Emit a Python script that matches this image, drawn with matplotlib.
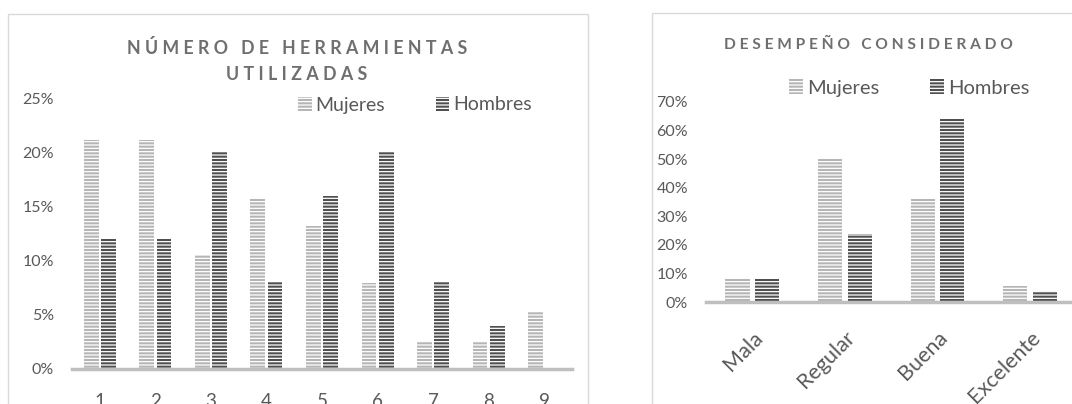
import numpy as np
import matplotlib
matplotlib.use('Agg')
import matplotlib.pyplot as plt
from matplotlib.patches import Rectangle
from matplotlib.ticker import PercentFormatter

# data
herramientas = ['1', '2', '3', '4', '5', '6', '7', '8', '9']
muj_herr = [21.1, 21.1, 10.5, 15.8, 13.2, 7.9, 2.6, 2.6, 5.3]
hom_herr = [12, 12, 20, 8, 16, 20, 8, 4, 0]

desempeno = ['Mala', 'Regular', 'Buena', 'Excelente']
muj_des = [8.3, 50, 36.1, 5.6]
hom_des = [8, 24, 64, 4]

series = ['Mujeres', 'Hombres']

plt.rcParams['font.family'] = ['Lato', 'DejaVu Sans']
plt.rcParams['hatch.linewidth'] = 0.9
txt = '#595959'
light = '#b5b5b5'
dark = '#4f4f4f'

W, H = 1072, 404
fig = plt.figure(figsize=(W/100, H/100), dpi=100)

# chart borders
fig.patches.append(Rectangle((8/W, -0.1), 580/W, 1.1 - 14/H, transform=fig.transFigure,
                             fill=False, ec='#d9d9d9', lw=1))
fig.patches.append(Rectangle((652/W, -0.1), 0.5, 1.1 - 13/H, transform=fig.transFigure,
                             fill=False, ec='#d9d9d9', lw=1))

def style(ax, ymax):
    for s in ['top', 'right', 'left']:
        ax.spines[s].set_visible(False)
    ax.spines['bottom'].set_color('#bfbfbf')
    ax.spines['bottom'].set_linewidth(2.5)
    ax.set_ylim(0, ymax)
    ax.yaxis.set_major_formatter(PercentFormatter(decimals=0))
    ax.tick_params(axis='both', length=0, colors=txt)
    ax.tick_params(axis='y', labelsize=11.5, pad=13)

# left chart
ax1 = fig.add_axes([72/W, 35/H, 500/W, 271/H])
x1 = np.arange(len(herramientas))
b1 = ax1.bar(x1 - 0.155, muj_herr, 0.265, color=light, ec='white', lw=0, hatch='-----', label=series[0])
b2 = ax1.bar(x1 + 0.155, hom_herr, 0.265, color=dark, ec='white', lw=0, hatch='-----', label=series[1])
ax1.set_xlim(-0.5, len(herramientas) - 0.5)
ax1.set_xticks(x1, herramientas)
style(ax1, 25)
ax1.set_yticks([0, 5, 10, 15, 20, 25])
ax1.tick_params(axis='x', labelsize=13.5, pad=17)
fig.text(297/W, 1 - 48/H, 'N Ú M E R O   D E   H E R R A M I E N T A S', ha='center', va='center',
         fontsize=12.8, fontweight='bold', color='#6f6f6f')
fig.text(297/W, 1 - 74/H, 'U T I L I Z A D A S', ha='center', va='center',
         fontsize=12.8, fontweight='bold', color='#6f6f6f')
fig.legend(handles=[b1, b2], loc='center left', bbox_to_anchor=(298/W, 1 - 105/H), ncol=2,
           frameon=False, fontsize=14, labelcolor=txt, borderpad=0, borderaxespad=0,
           handlelength=0.7, handleheight=0.7, handletextpad=0.2, columnspacing=2.6)

# right chart
ax2 = fig.add_axes([706/W, 101.7/H, 370.4/W, 200.6/H])
x2 = np.arange(len(desempeno))
c1 = ax2.bar(x2 - 0.16, muj_des, 0.26, color=light, ec='white', lw=0, hatch='-----', label=series[0])
c2 = ax2.bar(x2 + 0.16, hom_des, 0.26, color=dark, ec='white', lw=0, hatch='-----', label=series[1])
ax2.set_xlim(-0.5, len(desempeno) - 0.5)
ax2.set_xticks(x2, desempeno)
style(ax2, 70)
ax2.set_yticks(np.arange(0, 71, 10))
ax2.tick_params(axis='x', labelsize=15.5, pad=18)
for lab in ax2.get_xticklabels():
    lab.set_rotation(45)
    lab.set_ha('right')
    lab.set_va('top')
    lab.set_rotation_mode('anchor')
fig.text(868/W, 1 - 45/H, 'D E S E M P E Ñ O   C O N S I D E R A D O', ha='center', va='center',
         fontsize=11.2, fontweight='bold', color='#6f6f6f')
fig.legend(handles=[c1, c2], loc='center left', bbox_to_anchor=(789/W, 1 - 88/H), ncol=2,
           frameon=False, fontsize=14.5, labelcolor=txt, borderpad=0, borderaxespad=0,
           handlelength=0.7, handleheight=0.7, handletextpad=0.2, columnspacing=2.5)

fig.savefig('out.png', dpi=100)
